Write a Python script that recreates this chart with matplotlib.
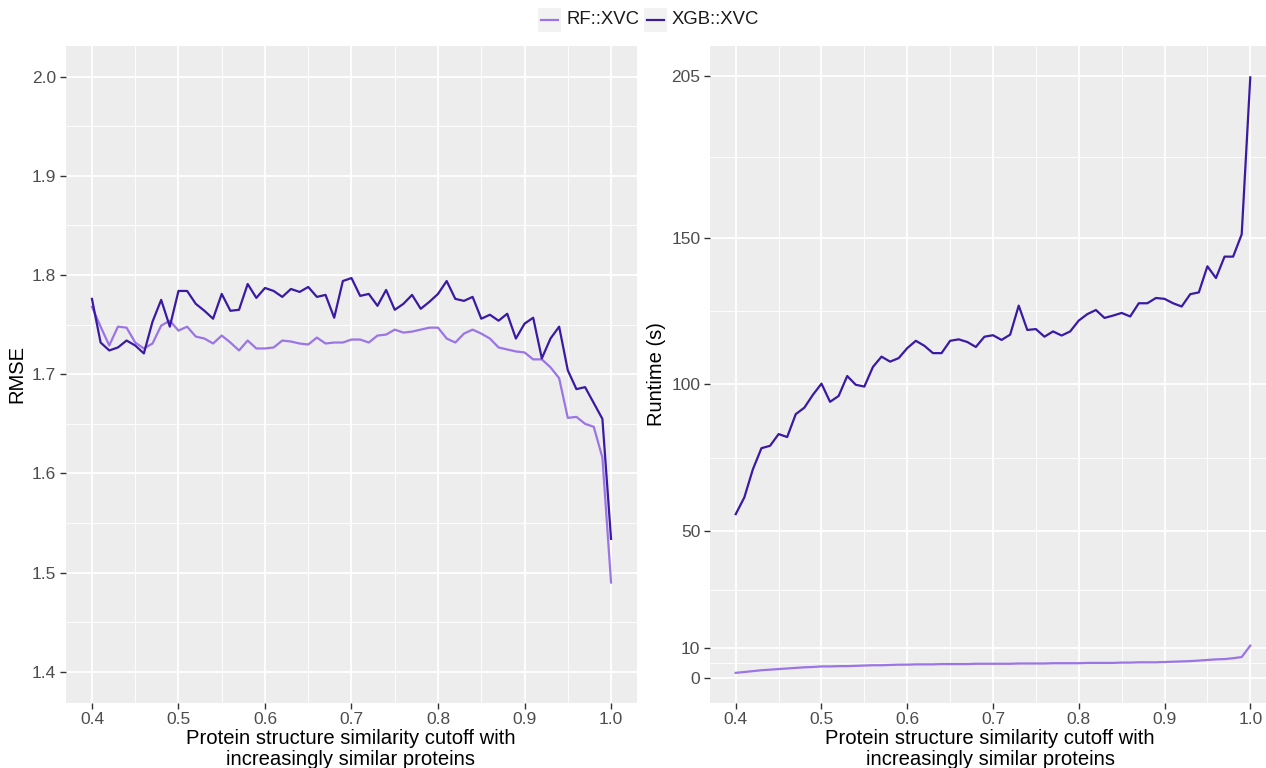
import matplotlib
matplotlib.use("Agg")
import matplotlib.pyplot as plt
from matplotlib.lines import Line2D
from matplotlib.patches import Rectangle

plt.rcParams['font.family'] = ['Liberation Sans', 'DejaVu Sans']

cutoff = [0.40, 0.41, 0.42, 0.43, 0.44, 0.45, 0.46, 0.47, 0.48, 0.49,
          0.50, 0.51, 0.52, 0.53, 0.54, 0.55, 0.56, 0.57, 0.58, 0.59,
          0.60, 0.61, 0.62, 0.63, 0.64, 0.65, 0.66, 0.67, 0.68, 0.69,
          0.70, 0.71, 0.72, 0.73, 0.74, 0.75, 0.76, 0.77, 0.78, 0.79,
          0.80, 0.81, 0.82, 0.83, 0.84, 0.85, 0.86, 0.87, 0.88, 0.89,
          0.90, 0.91, 0.92, 0.93, 0.94, 0.95, 0.96, 0.97, 0.98, 0.99, 1.00]

rmse_rf = [1.768, 1.748, 1.729, 1.748, 1.747, 1.732, 1.726, 1.731, 1.749, 1.754,
           1.744, 1.748, 1.738, 1.736, 1.731, 1.739, 1.732, 1.724, 1.734, 1.726,
           1.726, 1.727, 1.734, 1.733, 1.731, 1.730, 1.737, 1.731, 1.732, 1.732,
           1.735, 1.735, 1.732, 1.739, 1.740, 1.745, 1.742, 1.743, 1.745, 1.747,
           1.747, 1.736, 1.732, 1.741, 1.745, 1.741, 1.736, 1.727, 1.725, 1.723,
           1.722, 1.715, 1.715, 1.707, 1.696, 1.656, 1.657, 1.650, 1.647, 1.616, 1.490]

rmse_xgb = [1.776, 1.732, 1.724, 1.727, 1.734, 1.729, 1.721, 1.753, 1.775, 1.748,
            1.784, 1.784, 1.771, 1.764, 1.756, 1.781, 1.764, 1.765, 1.791, 1.777,
            1.787, 1.784, 1.778, 1.786, 1.783, 1.788, 1.778, 1.780, 1.757, 1.794,
            1.797, 1.779, 1.781, 1.769, 1.785, 1.765, 1.771, 1.780, 1.766, 1.773,
            1.781, 1.794, 1.776, 1.774, 1.778, 1.756, 1.760, 1.754, 1.761, 1.736,
            1.751, 1.757, 1.716, 1.736, 1.748, 1.704, 1.685, 1.687, 1.671, 1.655, 1.534]

time_rf = [1.6, 1.9, 2.2, 2.5, 2.7, 2.9, 3.1, 3.3, 3.5, 3.6,
           3.8, 3.8, 3.9, 3.9, 4.0, 4.1, 4.2, 4.2, 4.3, 4.4,
           4.4, 4.5, 4.5, 4.5, 4.6, 4.6, 4.6, 4.6, 4.7, 4.7,
           4.7, 4.7, 4.7, 4.8, 4.8, 4.8, 4.8, 4.9, 4.9, 4.9,
           4.9, 5.0, 5.0, 5.0, 5.0, 5.1, 5.1, 5.2, 5.2, 5.2,
           5.3, 5.4, 5.5, 5.6, 5.8, 6.0, 6.2, 6.3, 6.6, 7.0, 10.9]

time_xgb = [55.7, 61.4, 71.0, 78.2, 79.0, 83.0, 82.0, 89.8, 92.0, 96.4,
            100.2, 94.0, 96.0, 102.8, 99.8, 99.2, 105.9, 109.4, 107.7, 108.9,
            112.3, 114.8, 113.1, 110.6, 110.6, 114.8, 115.3, 114.4, 112.7, 116.2,
            116.7, 115.1, 116.9, 126.8, 118.5, 118.8, 116.2, 118.0, 116.6, 118.0,
            121.7, 123.9, 125.3, 122.6, 123.4, 124.3, 123.1, 127.6, 127.6, 129.4,
            129.1, 127.6, 126.5, 130.7, 131.3, 140.2, 136.2, 143.5, 143.5, 151.1, 204.6]

x_ticks = [0.4, 0.5, 0.6, 0.7, 0.8, 0.9, 1.0]
x_minor = [0.45, 0.55, 0.65, 0.75, 0.85, 0.95]
rmse_ticks = [1.4, 1.5, 1.6, 1.7, 1.8, 1.9, 2.0]
rmse_minor = [1.45, 1.55, 1.65, 1.75, 1.85, 1.95]
time_ticks = [0, 10, 50, 100, 150, 205]
time_minor = [5, 30, 75, 125, 177.5]

models = ['RF::XVC', 'XGB::XVC']
c_rf = '#9b74e6'
c_xgb = '#3a1aa3'
panel = '#ededed'
xlab = 'Protein structure similarity cutoff with\nincreasingly similar proteins'

W, H = 1266, 768
fig = plt.figure(figsize=(W / 100, H / 100), dpi=100)
ax1 = fig.add_axes([66 / W, 1 - 702.5 / H, 571 / W, 656.5 / H])
ax2 = fig.add_axes([710 / W, 1 - 702.5 / H, 566 / W, 656.5 / H])


def style(ax, yt, ym):
    ax.set_facecolor(panel)
    for s in ax.spines.values():
        s.set_visible(False)
    ax.set_xticks(x_ticks)
    ax.set_xticks(x_minor, minor=True)
    ax.set_yticks(yt)
    ax.set_yticks(ym, minor=True)
    ax.grid(True, which='major', color='white', lw=1.3, zorder=0)
    ax.grid(True, which='minor', color='white', lw=0.6, zorder=0)
    ax.set_axisbelow(True)
    ax.tick_params(which='major', length=4, width=1, color='#333333',
                   labelcolor='#4d4d4d', labelsize=12.5, pad=3)
    ax.tick_params(which='minor', length=0)
    ax.set_xlim(0.37, 1.03)


style(ax1, rmse_ticks, rmse_minor)
ax1.plot(cutoff, rmse_rf, color=c_rf, lw=1.6)
ax1.plot(cutoff, rmse_xgb, color=c_xgb, lw=1.6)
ax1.set_ylim(1.369, 2.031)
ax1.set_yticklabels(['1.4', '1.5', '1.6', '1.7', '1.8', '1.9', '2.0'])
ax1.set_xticklabels(['0.4', '0.5', '0.6', '0.7', '0.8', '0.9', '1.0'])
ax1.set_ylabel('RMSE', fontsize=14.5, labelpad=4)

style(ax2, time_ticks, time_minor)
ax2.plot(cutoff, time_rf, color=c_rf, lw=1.6)
ax2.plot(cutoff, time_xgb, color=c_xgb, lw=1.6)
ax2.set_ylim(-8.5, 215.3)
ax2.set_xticklabels(['0.4', '0.5', '0.6', '0.7', '0.8', '0.9', '1.0'])
ax2.set_ylabel('Runtime (s)', fontsize=14.5, labelpad=4)

# x titles, centred on each visible panel
for xc in (351, 990):
    fig.text(xc / W, 1 - 749 / H, xlab, ha='center', va='center',
             fontsize=14.6, linespacing=1.08, color='black')

# legend drawn by hand, ggplot style (grey key box + line + label)
for name, col, kx in zip(models, [c_rf, c_xgb], [538, 644]):
    fig.add_artist(Rectangle((kx / W, 1 - 32 / H), 23 / W, 24 / H,
                             transform=fig.transFigure, facecolor='#f2f2f2',
                             edgecolor='none'))
    fig.add_artist(Line2D([(kx + 3) / W, (kx + 20) / W], [1 - 20 / H, 1 - 20 / H],
                          transform=fig.transFigure, color=col, lw=1.6))
    fig.text((kx + 28) / W, 1 - 20 / H, name, ha='left', va='center',
             fontsize=13.3, color='#1a1a1a')

fig.savefig('out.png', dpi=100)
